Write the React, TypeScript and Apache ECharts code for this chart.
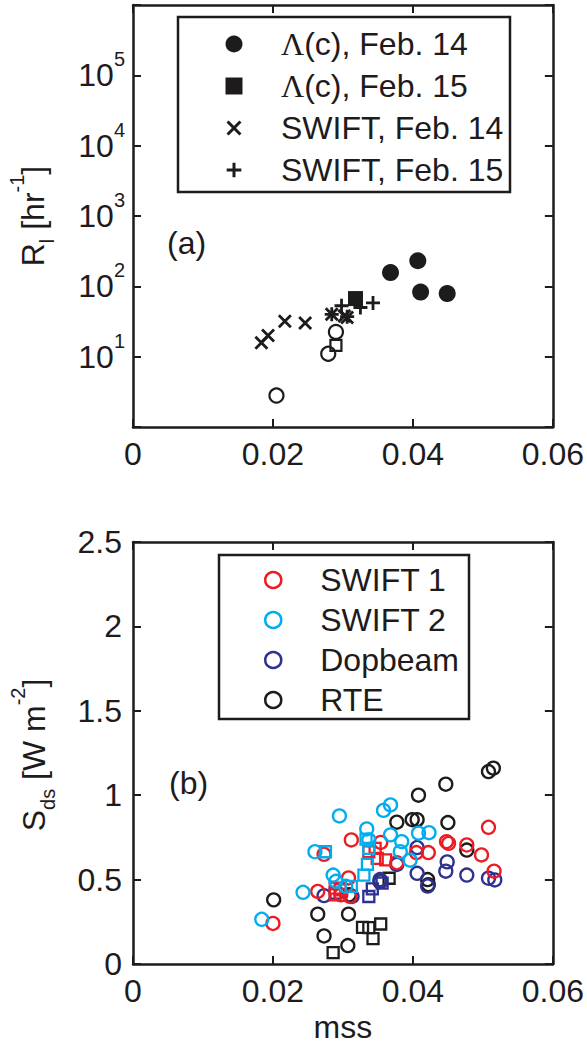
import React, { useEffect, useRef } from 'react';
import * as echarts from 'echarts';

// ---------- data ----------
const xTickValues = [0, 0.02, 0.04, 0.06];
const topYExponentLabels = [1, 2, 3, 4, 5];
const bottomYTickValues = [0, 0.5, 1, 1.5, 2, 2.5];

// panel (a): [mss, R_l]
const lambdaFeb14 = [[0.0368, 157], [0.0407, 231], [0.0411, 83], [0.0449, 79]];
const lambdaFeb15 = [[0.0318, 67]];
const swiftFeb14 = [[0.01835, 15.8], [0.0193, 20], [0.0217, 32], [0.0246, 30], [0.0284, 40], [0.0306, 36], [0.0302, 38]];
const swiftFeb15 = [[0.0284, 40], [0.0298, 53], [0.0325, 50], [0.0343, 58], [0.0306, 37]];
const openCirclesA = [[0.0205, 2.8], [0.0279, 11], [0.029, 22.5]];
const openSquaresA = [[0.029, 14.5]];

// panel (b): [mss, S_ds]
const swift1Circles = [[0.0200, 0.24], [0.0264, 0.43], [0.0297, 0.41], [0.0308, 0.51], [0.0312, 0.735], [0.0273, 0.65], [0.0354, 0.72], [0.0377, 0.60], [0.0405, 0.66], [0.0422, 0.66], [0.0448, 0.725], [0.0451, 0.715], [0.0477, 0.705], [0.0498, 0.646], [0.0508, 0.81], [0.0516, 0.55], [0.0310, 0.40]];
const swift1Squares = [[0.0289, 0.45], [0.0289, 0.41], [0.0337, 0.665], [0.0349, 0.626], [0.0361, 0.617], [0.0346, 0.685], [0.0296, 0.44]];
const swift2Circles = [[0.0184, 0.265], [0.0243, 0.425], [0.0286, 0.527], [0.0290, 0.49], [0.0304, 0.46], [0.0260, 0.665], [0.0295, 0.877], [0.0334, 0.80], [0.0337, 0.735], [0.0358, 0.91], [0.0368, 0.942], [0.0368, 0.765], [0.0384, 0.725], [0.0382, 0.665], [0.0396, 0.615], [0.0408, 0.775], [0.0423, 0.778]];
const swift2Squares = [[0.0275, 0.665], [0.0333, 0.74], [0.0337, 0.685], [0.0335, 0.59], [0.0330, 0.527], [0.0312, 0.46]];
const dopbeamCircles = [[0.0273, 0.405], [0.0313, 0.40], [0.0354, 0.49], [0.0377, 0.59], [0.0406, 0.537], [0.0406, 0.69], [0.0421, 0.462], [0.0447, 0.55], [0.0449, 0.605], [0.0477, 0.527], [0.0508, 0.508], [0.0517, 0.498], [0.0353, 0.50]];
const dopbeamSquares = [[0.0337, 0.40], [0.0342, 0.445], [0.0356, 0.479], [0.0289, 0.42]];
const rteCircles = [[0.0201, 0.38], [0.0264, 0.295], [0.0308, 0.295], [0.0273, 0.166], [0.0307, 0.109], [0.0309, 0.41], [0.0353, 0.488], [0.0377, 0.84], [0.0399, 0.855], [0.0406, 0.855], [0.0408, 1.0], [0.0447, 1.065], [0.0450, 0.838], [0.0477, 0.675], [0.0421, 0.50], [0.0422, 0.47], [0.0508, 1.14], [0.0515, 1.16]];
const rteSquares = [[0.0286, 0.067], [0.0328, 0.217], [0.0337, 0.215], [0.0343, 0.15], [0.0354, 0.237], [0.0366, 0.508]];

const topLegendNames = ['Λ(c), Feb. 14', 'Λ(c), Feb. 15', 'SWIFT, Feb. 14', 'SWIFT, Feb. 15'];
const bottomLegendNames = ['SWIFT 1', 'SWIFT 2', 'Dopbeam', 'RTE'];

// ---------- styles ----------
const FONT = '"Liberation Sans", Arial, Helvetica, sans-serif';
const INK = '#1e1b1c';
const RED = '#ec1c24';
const CYAN = '#00aeef';
const BLUE = '#2e3192';
const FS = 32;

const SQUARE = 'path://M0,0H10V10H0Z';
const CROSS = 'path://M0,0L10,10M0,10L10,0';
const PLUS = 'path://M5,0V10M0,5H10';
// legend versions: invisible move-to points widen the bounding box so the glyph stays small
const CROSS_LEGEND = 'path://M-1.6,-1.6M11.6,11.6M0,0L10,10M0,10L10,0';
const PLUS_LEGEND = 'path://M-0.8,-0.8M10.8,10.8M5,0V10M0,5H10';

const richScript = {
  m: { fontSize: FS, lineHeight: FS, fontFamily: FONT, color: INK, verticalAlign: 'middle' },
  sup: { fontSize: 20, lineHeight: 20, fontFamily: FONT, color: INK, padding: [0, 0, 32, 0], verticalAlign: 'middle' },
  sub: { fontSize: 20, lineHeight: 20, fontFamily: FONT, color: INK, padding: [28, 0, 0, 0], verticalAlign: 'middle' },
};

function xAxisPair(gridIndex: number, withName: boolean) {
  const common = {
    gridIndex,
    type: 'value',
    min: 0,
    max: 0.06,
    interval: 0.02,
    axisLine: { show: true, onZero: false, lineStyle: { color: INK, width: 2.5 } },
    axisTick: { show: true, inside: true, length: 8, lineStyle: { color: INK, width: 2 } },
    splitLine: { show: false },
  };
  return [
    {
      ...common,
      position: 'bottom',
      axisLabel: {
        show: true,
        fontSize: FS,
        fontFamily: FONT,
        color: INK,
        margin: 11,
        formatter: (v: number) => {
          const i = xTickValues.findIndex((t) => Math.abs(t - v) < 1e-9);
          return i >= 0 ? String(xTickValues[i]) : '';
        },
      },
      ...(withName
        ? {
            name: 'mss',
            nameLocation: 'middle',
            nameGap: 47,
            nameTextStyle: { fontSize: FS, fontFamily: FONT, color: INK },
          }
        : {}),
    },
    { ...common, position: 'top', axisLabel: { show: false } },
  ];
}

function openItem(color: string, width = 2) {
  return { color: 'rgba(0,0,0,0)', borderColor: color, borderWidth: width, opacity: 1 };
}

function bottomSeries(name: string, circles: number[][], squares: number[][], color: string) {
  return {
    type: 'scatter',
    name,
    xAxisIndex: 2,
    yAxisIndex: 2,
    symbol: 'circle',
    symbolSize: 13,
    itemStyle: openItem(color, 2.3),
    data: [
      ...circles.map((v) => ({ value: v })),
      ...squares.map((v) => ({ value: v, symbol: 'rect', symbolSize: 11 })),
    ],
  };
}

export default function App() {
  const ref = useRef<HTMLDivElement>(null);

  useEffect(() => {
    document.body.style.margin = '0';
    if (!ref.current) return;
    const chart = echarts.init(ref.current, undefined, { renderer: 'svg' });

    const option = {
      animation: false,
      backgroundColor: '#ffffff',
      grid: [
        { left: 133, top: 5, width: 422, height: 422 },
        { left: 133, top: 542, width: 422, height: 422 },
      ],
      xAxis: [...xAxisPair(0, false), ...xAxisPair(1, true)],
      yAxis: [
        {
          gridIndex: 0,
          type: 'log',
          logBase: 10,
          min: 1,
          max: 1e6,
          position: 'left',
          axisLine: { show: true, onZero: false, lineStyle: { color: INK, width: 2.5 } },
          axisTick: { show: true, inside: true, length: 8, lineStyle: { color: INK, width: 2 } },
          minorTick: { show: false },
          splitLine: { show: false },
          axisLabel: {
            show: true,
            margin: 8,
            fontSize: FS,
            fontFamily: FONT,
            color: INK,
            formatter: (v: number) => {
              const e = Math.round(Math.log10(v));
              return topYExponentLabels.includes(e) ? `{m|10}{sup|${e}}` : '';
            },
            rich: richScript,
          },
        },
        {
          gridIndex: 0,
          type: 'log',
          logBase: 10,
          min: 1,
          max: 1e6,
          position: 'right',
          axisLine: { show: true, onZero: false, lineStyle: { color: INK, width: 2.5 } },
          axisTick: { show: true, inside: true, length: 8, lineStyle: { color: INK, width: 2 } },
          splitLine: { show: false },
          axisLabel: { show: false },
        },
        {
          gridIndex: 1,
          type: 'value',
          min: 0,
          max: 2.5,
          interval: 0.5,
          position: 'left',
          axisLine: { show: true, onZero: false, lineStyle: { color: INK, width: 2.5 } },
          axisTick: { show: true, inside: true, length: 8, lineStyle: { color: INK, width: 2 } },
          splitLine: { show: false },
          axisLabel: {
            show: true,
            margin: 11,
            fontSize: FS,
            fontFamily: FONT,
            color: INK,
            formatter: (v: number) => {
              const i = bottomYTickValues.findIndex((t) => Math.abs(t - v) < 1e-9);
              return i >= 0 ? String(bottomYTickValues[i]) : '';
            },
          },
        },
        {
          gridIndex: 1,
          type: 'value',
          min: 0,
          max: 2.5,
          interval: 0.5,
          position: 'right',
          axisLine: { show: true, onZero: false, lineStyle: { color: INK, width: 2.5 } },
          axisTick: { show: true, inside: true, length: 8, lineStyle: { color: INK, width: 2 } },
          splitLine: { show: false },
          axisLabel: { show: false },
        },
      ],
      legend: [
        {
          orient: 'vertical',
          left: 224,
          top: 28,
          padding: 0,
          itemWidth: 84,
          itemHeight: 17,
          itemGap: 10,
          selectedMode: false,
          data: [
            { name: topLegendNames[0] },
            { name: topLegendNames[1] },
            { name: topLegendNames[2], icon: CROSS_LEGEND, itemStyle: { borderWidth: 3 } },
            { name: topLegendNames[3], icon: PLUS_LEGEND, itemStyle: { borderWidth: 3 } },
          ],
          z: 6,
          textStyle: {
            fontSize: FS,
            fontFamily: FONT,
            color: INK,
            rich: {
              g: { fontSize: FS, fontFamily: '"Liberation Serif", "Times New Roman", serif', color: INK },
              n: { fontSize: FS, fontFamily: FONT, color: INK },
            },
          },
          formatter: (name: string) => (name.startsWith('Λ') ? `{g|Λ}{n|${name.slice(1)}}` : name),
        },
        {
          orient: 'vertical',
          left: 264,
          top: 564,
          padding: 0,
          itemWidth: 84,
          itemHeight: 16,
          itemGap: 8,
          selectedMode: false,
          data: bottomLegendNames.map((name) => ({ name, itemStyle: { borderWidth: 2.5 } })),
          z: 6,
          textStyle: { fontSize: FS, fontFamily: FONT, color: INK },
        },
      ],
      graphic: [
        {
          type: 'rect',
          z: 5,
          shape: { x: 178, y: 17, width: 332, height: 175 },
          style: { fill: 'none', stroke: INK, lineWidth: 2.5 },
        },
        {
          type: 'rect',
          z: 5,
          shape: { x: 219, y: 555, width: 250, height: 164 },
          style: { fill: 'none', stroke: INK, lineWidth: 2.5 },
        },
        {
          type: 'text',
          x: 167,
          y: 243,
          style: { text: '(a)', fontSize: FS, fontFamily: FONT, fill: INK, verticalAlign: 'middle', align: 'left' },
        },
        {
          type: 'text',
          x: 169,
          y: 783,
          style: { text: '(b)', fontSize: FS, fontFamily: FONT, fill: INK, verticalAlign: 'middle', align: 'left' },
        },
        {
          type: 'text',
          x: 33,
          y: 216,
          rotation: Math.PI / 2,
          style: {
            text: '{m|R}{sub|l}{m| [hr}{sup|-1}{m|]}',
            rich: richScript,
            align: 'center',
            verticalAlign: 'middle',
            fontSize: FS,
            fontFamily: FONT,
            fill: INK,
          },
        },
        {
          type: 'text',
          x: 34,
          y: 755,
          rotation: Math.PI / 2,
          style: {
            text: '{m|S}{sub|ds}{m| [W m}{sup|-2}{m|]}',
            rich: richScript,
            align: 'center',
            verticalAlign: 'middle',
            fontSize: FS,
            fontFamily: FONT,
            fill: INK,
          },
        },
      ],
      series: [
        {
          type: 'scatter',
          name: 'open circles (a)',
          xAxisIndex: 0,
          yAxisIndex: 0,
          symbol: 'circle',
          symbolSize: 14,
          itemStyle: openItem(INK, 2.2),
          data: openCirclesA,
        },
        {
          type: 'scatter',
          name: 'open squares (a)',
          xAxisIndex: 0,
          yAxisIndex: 0,
          symbol: 'rect',
          symbolSize: 11,
          itemStyle: openItem(INK, 2.2),
          data: openSquaresA,
        },
        {
          type: 'scatter',
          name: topLegendNames[0],
          xAxisIndex: 0,
          yAxisIndex: 0,
          symbol: 'circle',
          symbolSize: 17,
          itemStyle: { color: INK, opacity: 1 },
          data: lambdaFeb14,
        },
        {
          type: 'scatter',
          name: topLegendNames[1],
          xAxisIndex: 0,
          yAxisIndex: 0,
          symbol: SQUARE,
          symbolSize: 15,
          itemStyle: { color: INK, opacity: 1 },
          data: lambdaFeb15,
        },
        {
          type: 'scatter',
          name: topLegendNames[2],
          xAxisIndex: 0,
          yAxisIndex: 0,
          symbol: CROSS,
          symbolSize: 12,
          itemStyle: openItem(INK, 2.8),
          data: swiftFeb14,
        },
        {
          type: 'scatter',
          name: topLegendNames[3],
          xAxisIndex: 0,
          yAxisIndex: 0,
          symbol: PLUS,
          symbolSize: 14,
          itemStyle: openItem(INK, 2.8),
          data: swiftFeb15,
        },
        bottomSeries('RTE', rteCircles, rteSquares, INK),
        bottomSeries('Dopbeam', dopbeamCircles, dopbeamSquares, BLUE),
        bottomSeries('SWIFT 1', swift1Circles, swift1Squares, RED),
        bottomSeries('SWIFT 2', swift2Circles, swift2Squares, CYAN),
      ],
    };

    chart.setOption(option as any);
    return () => chart.dispose();
  }, []);

  return (
    <div
      ref={ref}
      style={{ position: 'fixed', left: 0, top: 0, width: 587, height: 1046, background: '#fff' }}
    />
  );
}
